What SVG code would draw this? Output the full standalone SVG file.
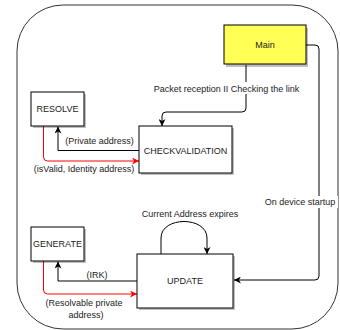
<svg xmlns="http://www.w3.org/2000/svg" width="340" height="330" viewBox="0 0 340 330">
<style>
text{font-family:"Liberation Sans",Arial,sans-serif;font-size:9px;fill:#222;}
.box{fill:#fff;stroke:#000;stroke-width:1;}
.sh{fill:#000;opacity:0.25;}
.c{fill:none;stroke:#000;stroke-width:1;}
.r{fill:none;stroke:#ff0000;stroke-width:1;}
.lb{fill:#fff;}
</style>
<defs>
<marker id="ab" viewBox="0 0 10 10" refX="10" refY="5" markerWidth="7" markerHeight="7" markerUnits="userSpaceOnUse" orient="auto">
<path d="M0,0 L10,5 L0,10 L3,5 Z" fill="#000"/>
</marker>
<marker id="ar" viewBox="0 0 10 10" refX="10" refY="5" markerWidth="7" markerHeight="7" markerUnits="userSpaceOnUse" orient="auto">
<path d="M0,0 L10,5 L0,10 L3,5 Z" fill="#ff0000"/>
</marker>
</defs>
<rect id="frame" x="17" y="5" width="321" height="324" rx="46" ry="46" fill="none" stroke="#333" stroke-width="1"/>
<g id="connectors">
<path class="c" d="M306,45 H315 Q319,45 319,49 V276 Q319,280 315,280 H234" marker-end="url(#ab)"/>
<path class="c" d="M246,65 V108 Q246,112 242,112 H166 Q162,112 162,116 V126" marker-end="url(#ab)"/>
<path class="c" d="M139,150.5 H58 V126.5" marker-end="url(#ab)"/>
<path class="r" d="M43.5,126 V157 Q43.5,161 47.5,161 H139" marker-end="url(#ar)"/>
<path class="c" d="M137,281 H58 V261.5" marker-end="url(#ab)"/>
<path class="r" d="M43.5,261 V290 Q43.5,294 47.5,294 H137" marker-end="url(#ar)"/>
<path class="c" d="M161,254 V238 C161,216 207,216 207,238 V254" marker-end="url(#ab)"/>
<rect class="lb" x="150" y="82" width="153" height="12"/>
<text x="226.5" y="91.5" text-anchor="middle">Packet reception II Checking the link</text>
<rect class="lb" x="262" y="196" width="76" height="12"/>
<text x="300" y="205" text-anchor="middle">On device startup</text>
<text x="99.5" y="144" text-anchor="middle">(Private address)</text>
<text x="84" y="172" text-anchor="middle">(isValid, Identity address)</text>
<text x="97" y="278" text-anchor="middle">(IRK)</text>
<text x="84" y="306" text-anchor="middle">(Resolvable private</text>
<text x="86" y="318" text-anchor="middle">address)</text>
<text x="190" y="217" text-anchor="middle">Current Address expires</text>
</g>
<g id="main">
<rect class="sh" x="226" y="28" width="82" height="39"/>
<rect x="224" y="25" width="82" height="39" fill="#ffff55" stroke="#000"/>
<text x="265" y="48" text-anchor="middle">Main</text>
</g>
<g id="resolve">
<rect class="sh" x="33" y="94" width="53" height="34"/>
<rect class="box" x="31" y="92" width="53" height="34"/>
<text x="57.5" y="112" text-anchor="middle">RESOLVE</text>
</g>
<g id="checkvalidation">
<rect class="sh" x="141" y="128" width="93" height="47"/>
<rect class="box" x="139" y="126" width="93" height="47"/>
<text x="185.5" y="154" text-anchor="middle">CHECKVALIDATION</text>
</g>
<g id="generate">
<rect class="sh" x="33" y="229" width="53" height="34"/>
<rect class="box" x="31" y="227" width="53" height="34"/>
<text x="57.5" y="247" text-anchor="middle">GENERATE</text>
</g>
<g id="update">
<rect class="sh" x="139" y="256" width="96" height="54"/>
<rect class="box" x="137" y="254" width="96" height="54"/>
<text x="185" y="284" text-anchor="middle">UPDATE</text>
</g>
</svg>
